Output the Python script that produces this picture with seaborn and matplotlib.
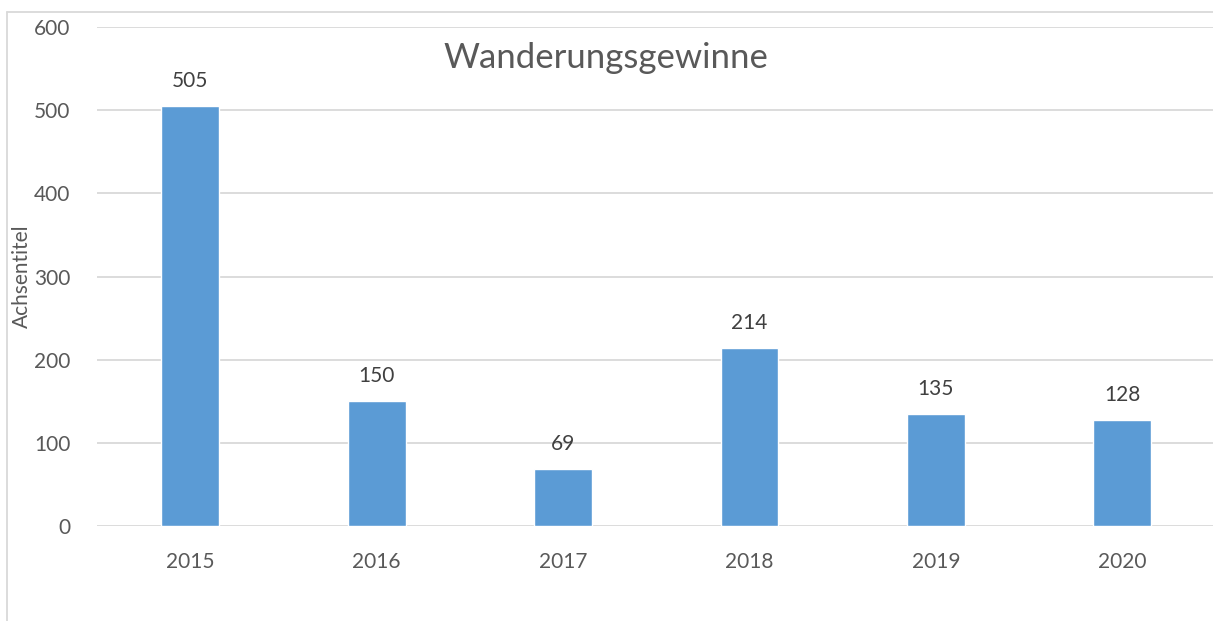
import matplotlib
matplotlib.use("Agg")
import matplotlib.pyplot as plt
import seaborn as sns
import pandas as pd

# Werte aus dem Diagramm
jahre = ['2015', '2016', '2017', '2018', '2019', '2020']
gewinne = [505, 150, 69, 214, 135, 128]
y_ticks = [0, 100, 200, 300, 400, 500, 600]

df = pd.DataFrame({'Jahr': jahre, 'Gewinne': gewinne})

sns.set_style("white")
plt.rcParams['font.family'] = ['Lato', 'DejaVu Sans']
text_col = '#595959'

fig = plt.figure(figsize=(12.13, 6.21), dpi=100)
ax = fig.add_axes([0.080, 0.153, 0.922, 0.8035])

sns.barplot(x='Jahr', y='Gewinne', data=df, color='#5B9BD5', width=0.31,
            saturation=1, ax=ax)

ax.set_ylim(0, 600)
ax.set_yticks(y_ticks)
ax.set_xlim(-0.5, 5.5)
ax.yaxis.grid(True, color='#d9d9d9', linewidth=1.3)
ax.set_axisbelow(True)
for s in ax.spines.values():
    s.set_visible(False)
ax.tick_params(axis='both', length=0, labelsize=15, colors=text_col)
ax.tick_params(axis='y', pad=19)
ax.tick_params(axis='x', pad=19)

ax.set_xlabel('')
ax.set_ylabel('Achsentitel', fontsize=15, color=text_col)
ax.yaxis.set_label_coords(-0.058, 0.5)

# Beschriftung über den Balken
for i, v in enumerate(gewinne):
    ax.text(i, v + 18, str(v), ha='center', va='bottom', fontsize=15, color='#404040')

ax.text(0.455, 0.938, 'Wanderungsgewinne', transform=ax.transAxes, ha='center',
        va='center', fontsize=25, color=text_col)

# Rahmen des Diagrammbereichs (nur links und oben sichtbar)
fig.add_artist(plt.Line2D([7 / 1213, 7 / 1213], [0, 1 - 12 / 621], color='#d9d9d9',
                          linewidth=1.3, transform=fig.transFigure))
fig.add_artist(plt.Line2D([7 / 1213, 1], [1 - 12 / 621, 1 - 12 / 621], color='#d9d9d9',
                          linewidth=1.3, transform=fig.transFigure))

plt.savefig('out.png', dpi=100)
